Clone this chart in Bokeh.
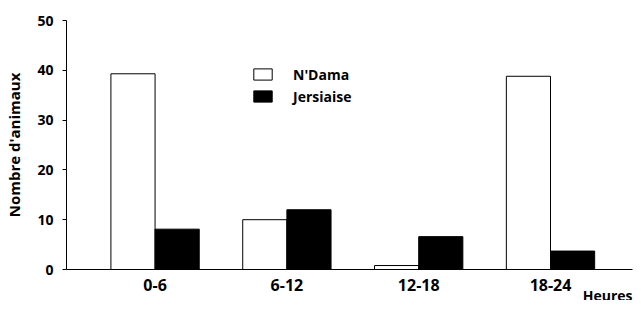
from bokeh.plotting import figure
from bokeh.models import ColumnDataSource, FixedTicker, Legend, LegendItem, Range1d, Title
from bokeh.transform import dodge
from bokeh.embed import file_html
from bokeh.resources import INLINE

categories = ["0-6", "6-12", "12-18", "18-24"]
ndama = [39.3, 10.0, 0.8, 38.8]
jersiaise = [8.1, 12.0, 6.6, 3.7]
y_ticks = [0, 10, 20, 30, 40, 50]

FONT = "Open Sans"

xpos = list(range(len(categories)))
src = ColumnDataSource(dict(x=xpos, ndama=ndama, jersiaise=jersiaise))

p = figure(width=633, height=300, output_backend="svg", toolbar_location=None,
           x_range=Range1d(-0.672, 3.622), y_range=Range1d(0, 50),
           min_border_left=66, min_border_right=1, min_border_top=20, min_border_bottom=31)
p.outline_line_color = None
p.grid.grid_line_color = None
p.background_fill_color = "white"
p.border_fill_color = "white"

w = 0.335
r1 = p.vbar(x=dodge("x", -w / 2, range=p.x_range), top="ndama", width=w, source=src,
            fill_color="white", line_color="black", line_width=1)
r2 = p.vbar(x=dodge("x", w / 2, range=p.x_range), top="jersiaise", width=w, source=src,
            fill_color="black", line_color="black", line_width=1)

xa = p.xaxis[0]
xa.ticker = FixedTicker(ticks=xpos)
xa.major_label_overrides = {i: c for i, c in zip(xpos, categories)}
xa.major_tick_out = 0
xa.major_tick_in = 0
xa.minor_tick_line_color = None
xa.axis_line_color = "black"
xa.major_label_text_font = FONT
xa.major_label_text_font_style = "bold"
xa.major_label_text_font_size = "16px"
xa.major_label_text_color = "black"
xa.major_label_standoff = 9

heures = Title(text="Heures", align="right", text_font=FONT, text_font_style="bold",
               text_font_size="14px", text_color="black", standoff=-22, offset=0)
p.add_layout(heures, "below")

ya = p.yaxis[0]
ya.ticker = FixedTicker(ticks=y_ticks)
ya.major_tick_out = 4
ya.major_tick_in = 0
ya.minor_tick_line_color = None
ya.axis_line_color = "black"
ya.major_tick_line_color = "black"
ya.major_label_text_font = FONT
ya.major_label_text_font_style = "bold"
ya.major_label_text_font_size = "14px"
ya.major_label_text_color = "black"
ya.major_label_standoff = 9
ya.axis_label = "Nombre d'animaux"
ya.axis_label_text_font = FONT
ya.axis_label_text_font_style = "bold"
ya.axis_label_text_font_size = "15px"
ya.axis_label_text_color = "black"
ya.axis_label_standoff = 10

legend = Legend(items=[LegendItem(label="N'Dama", renderers=[r1]),
                       LegendItem(label="Jersiaise", renderers=[r2])],
                location=(185, 163), orientation="vertical",
                glyph_width=23, glyph_height=14, label_height=20, label_standoff=19,
                spacing=2, padding=0, margin=0,
                border_line_color=None, background_fill_alpha=0,
                label_text_font=FONT, label_text_font_style="bold",
                label_text_font_size="14px", label_text_color="black")
p.add_layout(legend)

open("out.html", "w").write(file_html(p, INLINE))
